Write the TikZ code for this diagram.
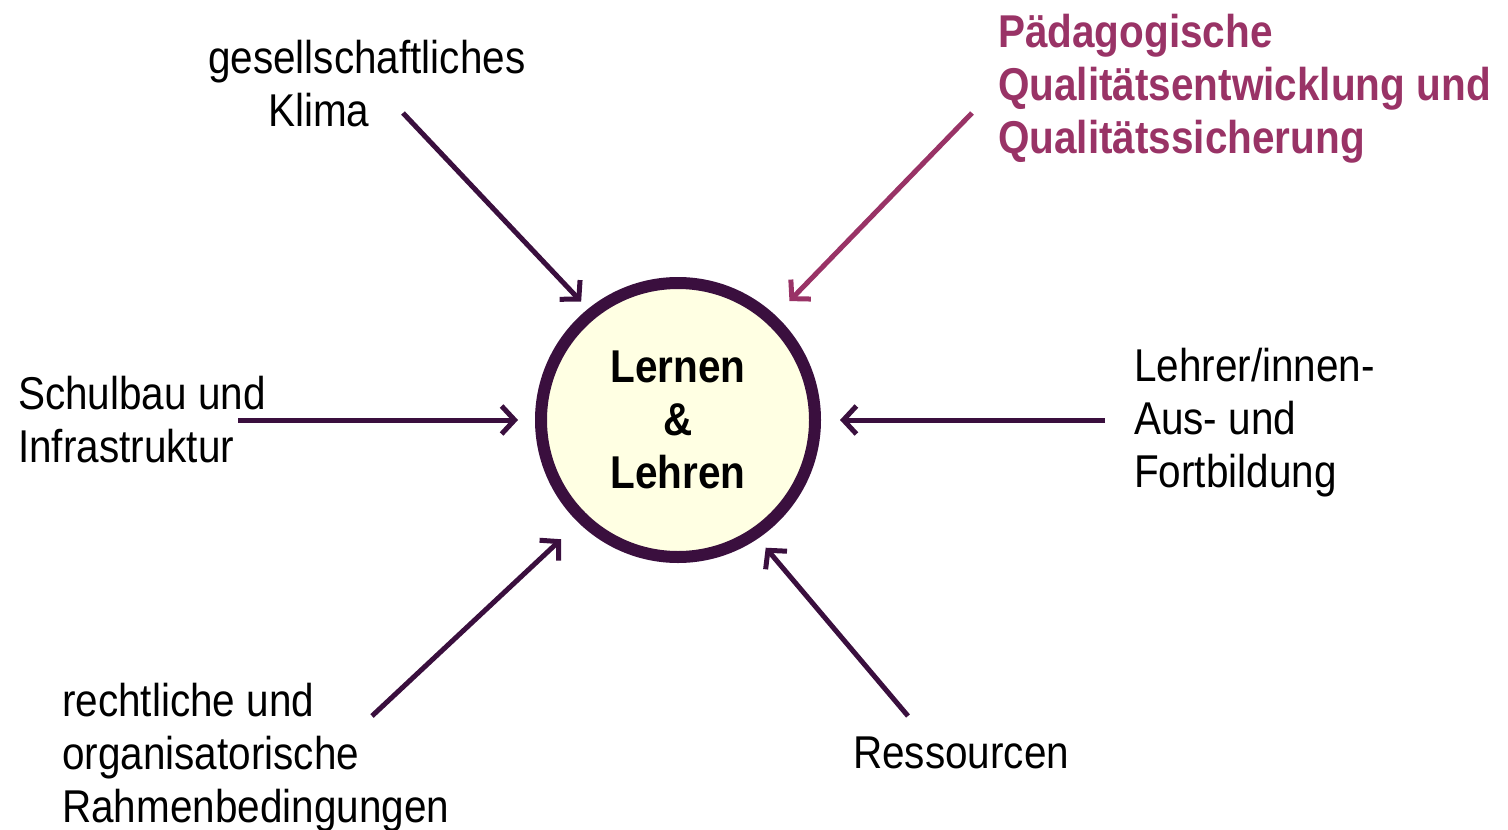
\documentclass[tikz,border=0pt]{standalone}
\usepackage{fontspec}
\setmainfont{Liberation Sans}[FakeStretch=0.88]
\usetikzlibrary{arrows.meta}
\definecolor{dpurple}{HTML}{3A0F3E}
\definecolor{magtext}{HTML}{993366}
\definecolor{cfill}{HTML}{FFFFE3}
\tikzset{
  lbl/.style={inner sep=0pt, align=left, anchor=west, font=\fontsize{46}{53}\selectfont, text=black},
  conn/.style={draw=dpurple, line width=5pt, -{Straight Barb[length=13pt,width=28pt,line width=5pt]}},
}
\begin{document}
\begin{tikzpicture}[x=1pt,y=-1pt]
\useasboundingbox (0,0) rectangle (1508,830);
\node[circle, draw=dpurple, fill=cfill, line width=12pt, minimum size=274pt, inner sep=0pt,
      align=center, font=\fontsize{46}{53}\selectfont\bfseries] (c) at (678,420) {Lernen\\\&\\Lehren};

\node[lbl, align=left] (t1) at (208,84) {gesellschaftliches\\\hspace*{60pt}Klima};
\node[lbl, text=magtext, font=\fontsize{46}{53}\selectfont\bfseries] (t2) at (998,89) {Pädagogische\\Qualitätsentwicklung und\\Qualitätssicherung};
\node[lbl] (t3) at (18,420) {Schulbau und\\Infrastruktur};
\node[lbl] (t4) at (1134,423) {Lehrer/innen-\\Aus- und\\Fortbildung};
\node[lbl] (t5) at (62,758) {rechtliche und\\organisatorische\\Rahmenbedingungen};
\node[lbl] (t6) at (853,753) {Ressourcen};

\coordinate (s1) at (403,113);
\coordinate (s2) at (972,113);
\coordinate (s3) at (238,420);
\coordinate (s4) at (1105,420);
\coordinate (s5) at (372,716);
\coordinate (s6) at (908,716);

\draw[conn, shorten >=10pt] (s1) -- (c.129.7);
\draw[conn, draw=magtext, shorten >=20pt] (s2) -- (c.47);
\draw[conn, shorten >=17pt] (s3) -- (c.180);
\draw[conn, shorten >=19pt] (s4) -- (c.0);
\draw[conn, shorten >=24pt] (s5) -- (c.226.9);
\draw[conn, shorten >=12pt] (s6) -- (c.304.2);
\end{tikzpicture}
\end{document}
